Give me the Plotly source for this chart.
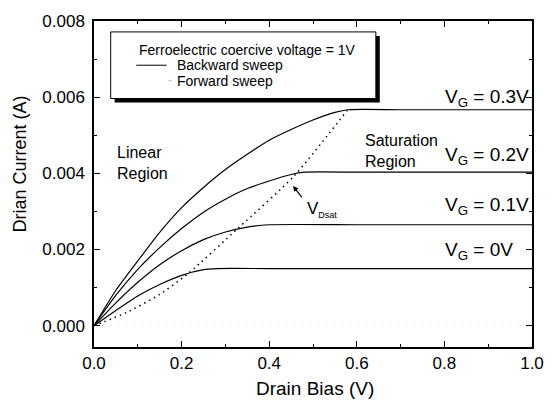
import plotly.graph_objects as go

# ---- data ----
vd_03 = [0, 0.05, 0.1, 0.15, 0.2, 0.25, 0.3, 0.35, 0.4, 0.45, 0.5, 0.55, 0.58, 0.7, 0.85, 1.0]
id_03 = [0, 0.00093, 0.0017, 0.00245, 0.0031, 0.00363, 0.0041, 0.0045, 0.00487, 0.00515, 0.0054, 0.0056, 0.00567, 0.00567, 0.00567, 0.00567]

vd_02 = [0, 0.05, 0.1, 0.15, 0.2, 0.25, 0.3, 0.35, 0.4, 0.45, 0.48, 0.6, 0.8, 1.0]
id_02 = [0, 0.0008, 0.00148, 0.00205, 0.00255, 0.00298, 0.00332, 0.0036, 0.0038, 0.00397, 0.00403, 0.00403, 0.00403, 0.00403]

vd_01 = [0, 0.05, 0.1, 0.15, 0.2, 0.25, 0.3, 0.35, 0.4, 0.6, 0.8, 1.0]
id_01 = [0, 0.0006, 0.00114, 0.0016, 0.00197, 0.00226, 0.00246, 0.00259, 0.00265, 0.00265, 0.00265, 0.00265]

vd_00 = [0, 0.05, 0.1, 0.15, 0.2, 0.25, 0.28, 0.4, 0.6, 0.8, 1.0]
id_00 = [0, 0.0004, 0.00078, 0.00108, 0.00132, 0.00147, 0.0015, 0.0015, 0.0015, 0.0015, 0.0015]

vdsat_v = [0, 0.075, 0.15, 0.217, 0.33, 0.456, 0.578]
vdsat_i = [0, 0.00035, 0.00082, 0.00139, 0.00257, 0.00392, 0.00565]

fwd_v = [0, 1.0]
fwd_i = [0, 0]

vg_labels = ["0.3V", "0.2V", "0.1V", "0V"]
vg_label_y = [0.00597, 0.00445, 0.00315, 0.00195]

x_ticks = [0.0, 0.2, 0.4, 0.6, 0.8, 1.0]
y_ticks = [0.000, 0.002, 0.004, 0.006, 0.008]

FONT = "Liberation Sans, Arial, sans-serif"

fig = go.Figure()

fig.add_trace(go.Scatter(x=fwd_v, y=fwd_i, mode="lines",
                         line=dict(color="#c8c8c8", width=1, dash="1px,7px"),
                         showlegend=False, hoverinfo="skip"))
for xs, ys in [(vd_03, id_03), (vd_02, id_02), (vd_01, id_01), (vd_00, id_00)]:
    fig.add_trace(go.Scatter(x=xs, y=ys, mode="lines",
                             line=dict(color="black", width=1.2, shape="spline", smoothing=0.6),
                             showlegend=False, hoverinfo="skip"))
fig.add_trace(go.Scatter(x=vdsat_v, y=vdsat_i, mode="lines",
                         line=dict(color="black", width=1.5, dash="1.5px,4px", shape="spline", smoothing=0.6),
                         showlegend=False, hoverinfo="skip"))

# ---- paper helpers (plot area px: x 94..540, y 19..347) ----
def px(xp):
    return (xp - 94) / 446.0

def py(yp):
    return (347 - yp) / 328.0

shapes = [
    # legend shadow
    dict(type="rect", xref="paper", yref="paper", x0=px(115), x1=px(385), y0=py(101), y1=py(34),
         fillcolor="black", line=dict(width=0), layer="above"),
    # legend box
    dict(type="rect", xref="paper", yref="paper", x0=px(111), x1=px(381), y0=py(97), y1=py(30),
         fillcolor="white", line=dict(color="black", width=1), layer="above"),
    # legend sample lines
    dict(type="line", xref="paper", yref="paper", x0=px(137), x1=px(168), y0=py(63.5), y1=py(63.5),
         line=dict(color="black", width=1), layer="above"),
    dict(type="line", xref="paper", yref="paper", x0=px(170), x1=px(173), y0=py(79), y1=py(79),
         line=dict(color="#bbbbbb", width=1), layer="above"),
]

ann = []
ann.append(dict(xref="paper", yref="paper", x=px(138), y=py(48), xanchor="left", yanchor="middle",
                text="Ferroelectric coercive voltage = 1V", showarrow=False,
                font=dict(family=FONT, size=14, color="black")))
ann.append(dict(xref="paper", yref="paper", x=px(176), y=py(63.5), xanchor="left", yanchor="middle",
                text="Backward sweep", showarrow=False,
                font=dict(family=FONT, size=14, color="black")))
ann.append(dict(xref="paper", yref="paper", x=px(176), y=py(79), xanchor="left", yanchor="middle",
                text="Forward sweep", showarrow=False,
                font=dict(family=FONT, size=14, color="black")))

for lab, yv in zip(vg_labels, vg_label_y):
    ann.append(dict(x=0.796, y=yv, xref="x", yref="y", xanchor="left", yanchor="middle",
                    text="V<sub>G</sub> = " + lab, showarrow=False,
                    font=dict(family=FONT, size=19, color="black")))

ann.append(dict(x=0.049, y=0.00427, xref="x", yref="y", xanchor="left", yanchor="middle",
                text="Linear<br>Region", align="left", showarrow=False,
                font=dict(family=FONT, size=16, color="black")))
ann.append(dict(x=0.614, y=0.00458, xref="x", yref="y", xanchor="left", yanchor="middle",
                text="Saturation<br>Region", align="left", showarrow=False,
                font=dict(family=FONT, size=16, color="black")))

# V_Dsat arrow + label
ann.append(dict(x=0.4545, y=0.00367, xref="x", yref="y", ax=10, ay=13, axref="pixel", ayref="pixel",
                text="", showarrow=True, arrowhead=2, arrowsize=0.9, arrowwidth=1.2, arrowcolor="black"))
ann.append(dict(x=0.4820, y=0.00305, xref="x", yref="y", xanchor="left", yanchor="middle",
                text="V<sub><span style='font-size:9px'>Dsat</span></sub>", showarrow=False,
                font=dict(family=FONT, size=17, color="black")))

# axis titles
ann.append(dict(xref="paper", yref="paper", x=px(319), y=py(389), xanchor="center", yanchor="middle",
                text="Drain Bias (V)", showarrow=False, font=dict(family=FONT, size=19, color="black")))
ann.append(dict(xref="paper", yref="paper", x=px(19), y=py(163), xanchor="center", yanchor="middle",
                text="Drian Current (A)", textangle=-90, showarrow=False,
                font=dict(family=FONT, size=18, color="black")))

fig.update_layout(
    width=556, height=401,
    margin=dict(l=94, r=16, t=19, b=54),
    paper_bgcolor="white", plot_bgcolor="white",
    showlegend=False,
    shapes=shapes, annotations=ann,
    font=dict(family=FONT, size=17, color="black"),
)
fig.update_xaxes(range=[0, 1.0], tickvals=x_ticks, tickformat=".1f",
                 ticks="inside", ticklen=6, tickwidth=1.2, tickcolor="black",
                 minor=dict(ticks="inside", ticklen=3, tickwidth=1, dtick=0.1, tick0=0, tickcolor="black"),
                 showline=True, linecolor="black", linewidth=1.5, mirror="ticks",
                 showgrid=False, zeroline=False, ticklabelstandoff=0,
                 tickfont=dict(family=FONT, size=17, color="black"))
fig.update_yaxes(range=[-0.00056, 0.008], tickvals=y_ticks, tickformat=".3f",
                 ticks="inside", ticklen=6, tickwidth=1.2, tickcolor="black",
                 minor=dict(ticks="inside", ticklen=3, tickwidth=1, dtick=0.001, tick0=0, tickcolor="black"),
                 showline=True, linecolor="black", linewidth=1.5, mirror="ticks",
                 showgrid=False, zeroline=False, ticklabelstandoff=4,
                 tickfont=dict(family=FONT, size=17, color="black"))

fig.write_html("out.html", config={"displayModeBar": False},
               post_script="document.body.style.margin='0px';document.body.style.padding='0px';document.body.style.overflow='hidden';")
